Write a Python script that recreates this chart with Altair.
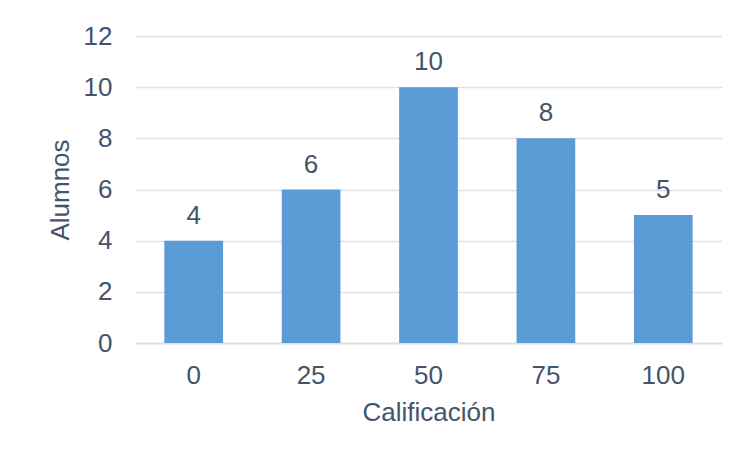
import altair as alt
import pandas as pd

categorias = ["0", "25", "50", "75", "100"]
alumnos = [4, 6, 10, 8, 5]

df = pd.DataFrame({"Calificación": categorias, "Alumnos": alumnos})

FONT = "Liberation Sans"
TXT = "#44546A"
GRID = "#DDE1E6"
FS = 26

base = alt.Chart(df)

bars = base.mark_bar(color="#5B9BD5").encode(
    x=alt.X(
        "Calificación:N",
        sort=categorias,
        scale=alt.Scale(paddingInner=0.5, paddingOuter=0.25),
        axis=alt.Axis(
            title="Calificación",
            labelAngle=0,
            labelFontSize=FS,
            labelColor=TXT,
            labelFont=FONT,
            labelPadding=19,
            ticks=False,
            domain=True,
            domainColor=GRID,
            domainWidth=2,
            grid=False,
            titleFontSize=FS,
            titleFont=FONT,
            titleColor=TXT,
            titleFontWeight="normal",
            titleY=77,
            titleBaseline="alphabetic",
        ),
    ),
    y=alt.Y(
        "Alumnos:Q",
        scale=alt.Scale(domain=[0, 12], nice=False),
        axis=alt.Axis(
            title="Alumnos",
            values=[0, 2, 4, 6, 8, 10, 12],
            labelFontSize=FS,
            labelColor=TXT,
            labelFont=FONT,
            labelPadding=23,
            ticks=False,
            domain=False,
            grid=True,
            gridColor=GRID,
            gridWidth=1.5,
            titleFontSize=FS,
            titleFont=FONT,
            titleColor=TXT,
            titleFontWeight="normal",
            titleAngle=-90,
            titleX=-67,
            titleBaseline="alphabetic",
        ),
    ),
)

labels = base.mark_text(
    dy=-17, baseline="alphabetic", fontSize=FS, font=FONT, color=TXT
).encode(
    x=alt.X("Calificación:N", sort=categorias),
    y="Alumnos:Q",
    text="Alumnos:Q",
)

chart = (
    (bars + labels)
    .properties(
        width=587,
        height=307,
        autosize=alt.AutoSizeParams(type="none"),
        padding={"left": 135, "top": 36, "right": 14, "bottom": 112},
        background="white",
    )
    .configure_view(stroke=None)
)

chart.save("out.html", embed_options={"renderer": "svg", "actions": False})
